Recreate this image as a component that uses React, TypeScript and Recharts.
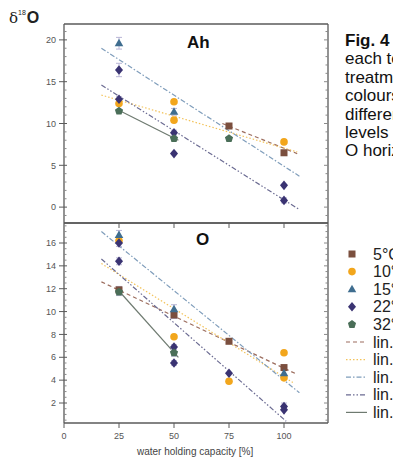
import React from "react";
import { ScatterChart, Scatter, XAxis, YAxis, ReferenceLine, ErrorBar } from "recharts";

const temps = ["5°C", "10°C", "15°C", "22°C", "32°C"];
const xTicks = [0, 25, 50, 75, 100];
const ahTicks = [0, 5, 10, 15, 20];
const oTicks = [2, 4, 6, 8, 10, 12, 14, 16];

// Ah horizon, measured points (x = water holding capacity, y = d18O)
const ah5 = [{ x: 75, y: 9.7, err: 0.2 }, { x: 100, y: 6.5, err: 0.3 }];
const ah10 = [{ x: 25, y: 12.4, err: 0 }, { x: 50, y: 12.6, err: 0 }, { x: 50, y: 10.4, err: 0 }, { x: 100, y: 7.8, err: 0 }];
const ah15 = [{ x: 25, y: 19.6, err: 0.7 }, { x: 50, y: 11.4, err: 0.4 }];
const ah22 = [{ x: 25, y: 16.4, err: 0.8 }, { x: 25, y: 12.9, err: 0.3 }, { x: 50, y: 8.9, err: 0.3 }, { x: 50, y: 6.4, err: 0 }, { x: 100, y: 2.6, err: 0 }, { x: 100, y: 0.8, err: 0.3 }];
const ah32 = [{ x: 25, y: 11.5, err: 0 }, { x: 50, y: 8.2, err: 0 }, { x: 75, y: 8.2, err: 0.2 }];

// Ah horizon, linear fits (end points)
const ahFit5 = [{ x: 72, y: 10.0 }, { x: 106, y: 6.4 }];
const ahFit10 = [{ x: 17, y: 13.4 }, { x: 106, y: 6.6 }];
const ahFit15 = [{ x: 17, y: 19.0 }, { x: 107, y: 3.7 }];
const ahFit22 = [{ x: 17, y: 14.6 }, { x: 107, y: -0.3 }];
const ahFit32 = [{ x: 24, y: 11.7 }, { x: 52, y: 8.0 }];

// O horizon, measured points
const o5 = [{ x: 25, y: 11.9, err: 0.3 }, { x: 50, y: 9.7, err: 0.3 }, { x: 75, y: 7.4, err: 0.2 }, { x: 100, y: 5.1, err: 0.2 }];
const o10 = [{ x: 25, y: 16.2, err: 0 }, { x: 50, y: 7.8, err: 0 }, { x: 75, y: 3.9, err: 0 }, { x: 100, y: 6.4, err: 0 }, { x: 100, y: 4.2, err: 0 }];
const o15 = [{ x: 25, y: 16.7, err: 0.4 }, { x: 50, y: 10.2, err: 0.4 }, { x: 100, y: 4.6, err: 0 }];
const o22 = [{ x: 25, y: 16.0, err: 0.3 }, { x: 25, y: 14.4, err: 0.3 }, { x: 50, y: 6.9, err: 0.2 }, { x: 50, y: 5.5, err: 0.2 }, { x: 75, y: 4.6, err: 0 }, { x: 100, y: 1.7, err: 0.3 }, { x: 100, y: 1.4, err: 0 }];
const o32 = [{ x: 25, y: 11.7, err: 0.3 }, { x: 50, y: 6.4, err: 0.3 }];

// O horizon, linear fits
const oFit5 = [{ x: 17, y: 12.6 }, { x: 106, y: 4.5 }];
const oFit10 = [{ x: 17, y: 14.2 }, { x: 104, y: 3.8 }];
const oFit15 = [{ x: 17, y: 17.0 }, { x: 107, y: 2.9 }];
const oFit22 = [{ x: 17, y: 14.6 }, { x: 101, y: 0.4 }];
const oFit32 = [{ x: 25, y: 11.8 }, { x: 52, y: 6.0 }];

const styles = [
  { kind: "square", fill: "#7b4f3e", line: "#9c6d5e", dash: "4 3" },
  { kind: "circle", fill: "#f2a61c", line: "#f3c35a", dash: "1.5 2" },
  { kind: "triangle", fill: "#3f6d8f", line: "#7f9dbb", dash: "5 2 1.5 2" },
  { kind: "diamond", fill: "#3a3372", line: "#6b6b92", dash: "5 2 1.5 2 1.5 2" },
  { kind: "pentagon", fill: "#4a6e58", line: "#6e7a70", dash: undefined },
];

const font = '"Liberation Sans", Arial, sans-serif';
const frame = "#5a5a5a";
const minorColor = "#8a8a8a";

const range = (a: number, b: number, s: number) => {
  const out: number[] = [];
  for (let v = a; v <= b + 1e-9; v += s) out.push(Math.round(v * 100) / 100);
  return out;
};

// custom tick renderers: tickSize/tickMargin are 0, so x/y sit on the axis line
const leftTick = (major: number[]) => (p: any) => {
  const v = p.payload.value;
  if (major.includes(v))
    return (
      <g>
        <line x1={p.x - 5} x2={p.x + 3} y1={p.y} y2={p.y} stroke={frame} />
        <text x={p.x - 8} y={p.y} dy={3.2} textAnchor="end" fontSize={9} fill="#555" fontFamily={font}>
          {v}
        </text>
      </g>
    );
  return <line x1={p.x} x2={p.x + 2.5} y1={p.y} y2={p.y} stroke={minorColor} />;
};

const rightTick = (major: number[]) => (p: any) => {
  const len = major.includes(p.payload.value) ? 4 : 2.5;
  return <line x1={p.x - len} x2={p.x} y1={p.y} y2={p.y} stroke={minorColor} />;
};

const topTick = (p: any) => <line x1={p.x} x2={p.x} y1={p.y - 5} y2={p.y} stroke={frame} />;

const bottomTick = (labels: boolean) => (p: any) => (
  <g>
    <line x1={p.x} x2={p.x} y1={p.y} y2={p.y + 5} stroke={frame} />
    {labels && (
      <text x={p.x} y={p.y + 16} textAnchor="middle" fontSize={9} fill="#555" fontFamily={font}>
        {p.payload.value}
      </text>
    )}
  </g>
);

function Marker({ cx, cy, kind, fill }: any) {
  if (cx == null || cy == null) return null;
  if (kind === "square") return <rect x={cx - 3.5} y={cy - 3.5} width={7} height={7} fill={fill} />;
  if (kind === "circle") return <circle cx={cx} cy={cy} r={3.8} fill={fill} />;
  if (kind === "triangle")
    return <polygon points={`${cx},${cy - 4.5} ${cx + 4.3},${cy + 3} ${cx - 4.3},${cy + 3}`} fill={fill} />;
  if (kind === "diamond")
    return <polygon points={`${cx},${cy - 4.8} ${cx + 4},${cy} ${cx},${cy + 4.8} ${cx - 4},${cy}`} fill={fill} />;
  const pts = [0, 1, 2, 3, 4]
    .map((i) => {
      const a = -Math.PI / 2 + (i * 2 * Math.PI) / 5;
      return `${cx + 4.3 * Math.cos(a)},${cy + 4.3 * Math.sin(a)}`;
    })
    .join(" ");
  return <polygon points={pts} fill={fill} />;
}

interface PanelProps {
  series: { x: number; y: number; err: number }[][];
  fits: { x: number; y: number }[][];
  domain: [number, number];
  ticks: number[];
  minor: number[];
  height: number;
  margin: { top: number; right: number; bottom: number; left: number };
  bottomLabels: boolean;
}

function Panel({ series, fits, domain, ticks, minor, height, margin, bottomLabels }: PanelProps) {
  return (
    <ScatterChart width={345} height={height} margin={margin}>
      <XAxis
        xAxisId="top"
        orientation="top"
        type="number"
        dataKey="x"
        domain={[0, 120]}
        ticks={[25, 50, 75, 100]}
        interval={0}
        tick={topTick}
        tickLine={false}
        tickSize={0}
        tickMargin={0}
        height={1}
        axisLine={{ stroke: frame, strokeWidth: 1.3 }}
      />
      <XAxis
        xAxisId="bottom"
        orientation="bottom"
        type="number"
        dataKey="x"
        domain={[0, 120]}
        ticks={bottomLabels ? xTicks : [25, 50, 75, 100]}
        interval={0}
        tick={bottomTick(bottomLabels)}
        tickLine={false}
        tickSize={0}
        tickMargin={0}
        height={bottomLabels ? 20 : 1}
        axisLine={{ stroke: frame, strokeWidth: 1.3 }}
      />
      <YAxis
        yAxisId="left"
        dataKey="y"
        type="number"
        domain={domain}
        ticks={minor}
        interval={0}
        tick={leftTick(ticks)}
        tickLine={false}
        tickSize={0}
        tickMargin={0}
        width={40}
        axisLine={{ stroke: frame, strokeWidth: 1.3 }}
        allowDataOverflow
      />
      <YAxis
        yAxisId="right"
        dataKey="y"
        orientation="right"
        type="number"
        domain={domain}
        ticks={minor}
        interval={0}
        tick={rightTick(ticks)}
        tickLine={false}
        tickSize={0}
        tickMargin={0}
        width={1}
        axisLine={{ stroke: frame, strokeWidth: 1.3 }}
        allowDataOverflow
      />
      {fits.map((f, i) => (
        <ReferenceLine
          key={"fit" + i}
          xAxisId="bottom"
          yAxisId="left"
          segment={f}
          stroke={styles[i].line}
          strokeWidth={1.2}
          strokeDasharray={styles[i].dash}
          ifOverflow="visible"
        />
      ))}
      {series.map((d, i) => (
        <Scatter
          key={temps[i]}
          name={temps[i]}
          data={d}
          xAxisId="bottom"
          yAxisId="left"
          isAnimationActive={false}
          shape={(p: any) => <Marker cx={p.cx} cy={p.cy} kind={styles[i].kind} fill={styles[i].fill} />}
        >
          <ErrorBar dataKey="err" direction="y" width={3} stroke="#b9b6d6" strokeWidth={1} />
        </Scatter>
      ))}
    </ScatterChart>
  );
}

const captionLines = ["each temperature", "treatment", "colours", "different", "levels", "O horizon"];
const legendTop = 254;
const legendStep = 17.6;

function Legend() {
  return (
    <svg width={393} height={463} style={{ position: "absolute", left: 0, top: 0, pointerEvents: "none" }}>
      {temps.map((t, i) => (
        <g key={t}>
          <Marker cx={352} cy={legendTop + i * legendStep} kind={styles[i].kind} fill={styles[i].fill} />
          <text x={373} y={legendTop + i * legendStep + 5.5} fontSize={16} fontFamily={font} fill="#222">
            {t}
          </text>
        </g>
      ))}
      {temps.map((t, i) => {
        const y = legendTop + (i + 5) * legendStep;
        return (
          <g key={"l" + t}>
            <line x1={346} x2={367} y1={y} y2={y} stroke={styles[i].line} strokeWidth={1.2} strokeDasharray={styles[i].dash} />
            <text x={373} y={y + 5.5} fontSize={16} fontFamily={font} fill="#222">
              {"lin.fit " + t}
            </text>
          </g>
        );
      })}
    </svg>
  );
}

export default function App() {
  return (
    <div style={{ position: "absolute", left: 0, top: 0, width: 393, height: 463, overflow: "hidden", background: "#fff", fontFamily: font }}>
      <div style={{ position: "absolute", left: 0, top: 0 }}>
        <Panel
          series={[ah5, ah10, ah15, ah22, ah32]}
          fits={[ahFit5, ahFit10, ahFit15, ahFit22, ahFit32]}
          domain={[-1.9, 21.9]}
          ticks={ahTicks}
          minor={range(-1, 21, 1)}
          height={232}
          margin={{ top: 23, right: 16, bottom: 8, left: 24 }}
          bottomLabels={false}
        />
      </div>
      <div style={{ position: "absolute", left: 0, top: 213 }}>
        <Panel
          series={[o5, o10, o15, o22, o32]}
          fits={[oFit5, oFit10, oFit15, oFit22, oFit32]}
          domain={[0.25, 17.75]}
          ticks={oTicks}
          minor={range(0.5, 17.5, 0.5)}
          height={250}
          margin={{ top: 9, right: 16, bottom: 20, left: 24 }}
          bottomLabels={true}
        />
      </div>
      <div style={{ position: "absolute", left: 9, top: 9, whiteSpace: "nowrap", color: "#222" }}>
        <span style={{ fontFamily: "DejaVu Serif, serif", fontSize: 15 }}>δ</span>
        <sup style={{ fontSize: 7, position: "relative", top: -2 }}>18</sup>
        <span style={{ fontSize: 16, fontWeight: "bold", marginLeft: 1 }}>O</span>
      </div>
      <div style={{ position: "absolute", left: 187, top: 33, fontSize: 17, fontWeight: "bold", color: "#111" }}>Ah</div>
      <div style={{ position: "absolute", left: 196, top: 230, fontSize: 17, fontWeight: "bold", color: "#111" }}>O</div>
      <div style={{ position: "absolute", left: 137, top: 446, fontSize: 10, color: "#444", whiteSpace: "nowrap" }}>
        water holding capacity [%]
      </div>
      <div style={{ position: "absolute", left: 345, top: 32, fontSize: 17, lineHeight: "18.4px", color: "#111", whiteSpace: "nowrap" }}>
        <div style={{ fontWeight: "bold" }}>Fig. 4</div>
        {captionLines.map((c) => (
          <div key={c}>{c}</div>
        ))}
      </div>
      <Legend />
    </div>
  );
}
